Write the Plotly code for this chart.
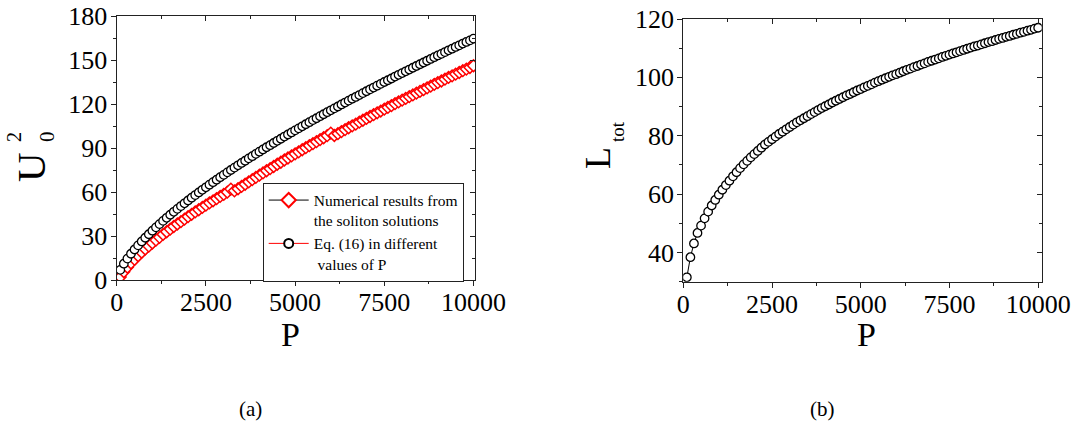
import plotly.graph_objects as go

W, H = 1077, 421

# ---------------- data ----------------
P = list(range(100, 10001, 100))

U0sq_eq16 = [6.9, 11.1, 14.6, 17.9, 20.8, 23.6, 26.3, 28.8, 31.2, 33.6,
             35.9, 38.1, 40.3, 42.4, 44.5, 46.5, 48.5, 50.4, 52.3, 54.2,
             56.1, 57.9, 59.7, 61.5, 63.2, 65.0, 66.7, 68.4, 70.1, 71.7,
             73.4, 75.0, 76.6, 78.2, 79.8, 81.3, 82.9, 84.4, 86.0, 87.5,
             89.0, 90.5, 91.9, 93.4, 94.9, 96.3, 97.8, 99.2, 100.6, 102.0,
             103.4, 104.8, 106.2, 107.6, 109.0, 110.3, 111.7, 113.0, 114.4, 115.7,
             117.0, 118.3, 119.7, 121.0, 122.3, 123.6, 124.8, 126.1, 127.4, 128.7,
             130.0, 131.2, 132.5, 133.7, 135.0, 136.2, 137.4, 138.7, 139.9, 141.1,
             142.3, 143.5, 144.7, 145.9, 147.1, 148.3, 149.5, 150.7, 151.9, 153.1,
             154.2, 155.4, 156.6, 157.7, 158.9, 160.0, 161.2, 162.3, 163.4, 164.6]

U0sq_num = [2.0, 5.6, 8.7, 11.6, 14.1, 16.5, 18.9, 21.1, 23.1, 25.2,
            27.2, 29.1, 31.1, 32.9, 34.7, 36.5, 38.2, 39.8, 41.5, 43.2,
            44.8, 46.4, 47.9, 49.5, 51.0, 52.6, 54.0, 55.5, 57.0, 58.4,
            59.9, 62.0, 60.8, 62.2, 63.8, 65.3, 66.9, 68.4, 70.0, 71.5,
            73.0, 74.5, 75.9, 77.4, 78.9, 80.3, 81.8, 83.2, 84.6, 86.0,
            87.4, 88.8, 90.2, 91.6, 93.0, 94.3, 95.7, 97.0, 98.4, 100.2,
            98.5, 99.8, 101.2, 102.5, 103.8, 105.1, 106.3, 107.6, 108.9, 110.2,
            111.5, 112.7, 114.0, 115.2, 116.5, 117.7, 118.9, 120.2, 121.4, 122.6,
            123.8, 125.0, 126.2, 127.4, 128.6, 129.8, 131.0, 132.2, 133.4, 134.6,
            135.7, 136.9, 138.1, 139.2, 140.4, 141.5, 142.7, 143.8, 144.9, 146.1]

L_tot = [31.5, 38.4, 43.1, 46.7, 49.2, 51.7, 54.0, 56.1, 58.0, 59.8,
         61.5, 63.1, 64.6, 66.1, 67.5, 68.9, 70.2, 71.4, 72.6, 73.7,
         74.8, 75.9, 77.0, 77.9, 78.8, 79.7, 80.6, 81.4, 82.2, 83.0,
         83.8, 84.6, 85.3, 86.0, 86.7, 87.4, 88.1, 88.8, 89.5, 90.1,
         90.7, 91.4, 92.0, 92.6, 93.2, 93.8, 94.3, 94.9, 95.5, 96.0,
         96.6, 97.1, 97.6, 98.2, 98.7, 99.2, 99.7, 100.2, 100.7, 101.1,
         101.6, 102.1, 102.6, 103.0, 103.5, 103.9, 104.4, 104.8, 105.3, 105.7,
         106.1, 106.5, 107.0, 107.4, 107.8, 108.2, 108.6, 109.0, 109.4, 109.8,
         110.2, 110.6, 110.9, 111.3, 111.7, 112.1, 112.4, 112.8, 113.2, 113.5,
         113.9, 114.2, 114.6, 114.9, 115.3, 115.6, 116.0, 116.3, 116.7, 117.0]

x_ticks = [0, 2500, 5000, 7500, 10000]
ya_ticks = [0, 30, 60, 90, 120, 150, 180]
yb_ticks = [40, 60, 80, 100, 120]

legend_num = "Numerical results from<br>the soliton solutions"
legend_eq = "Eq. (16) in different<br>\u00a0values of P"

# ---------------- helpers ----------------
def px(x):
    return x / W

def py(y):
    return 1 - y / H

SERIF = "Liberation Serif"
TICKFONT = dict(family=SERIF, size=26, color="black")

xa_dom = [px(116.7), px(475.0)]
ya_dom = [py(280.0), py(16.0)]
xb_dom = [px(683.3), px(1041.7)]
yb_dom = [py(281.7), py(19.0)]

xa_rng = [0, 10042]
ya_rng = [0, 180]
xb_rng = [0, 10100]
yb_rng = [30, 120]

fig = go.Figure()

# panel (a)
fig.add_trace(go.Scatter(
    x=P, y=U0sq_num, mode="lines+markers", xaxis="x", yaxis="y",
    line=dict(color="red", width=1),
    marker=dict(symbol="diamond", size=9, color="white",
                line=dict(color="red", width=1.5)),
    showlegend=False, hoverinfo="skip"))
fig.add_trace(go.Scatter(
    x=P, y=U0sq_eq16, mode="lines+markers", xaxis="x", yaxis="y",
    line=dict(color="black", width=1),
    marker=dict(symbol="circle", size=8.5, color="white",
                line=dict(color="black", width=1.3)),
    showlegend=False, hoverinfo="skip"))

# legend entries (as in the original: red diamond on black line, black circle on red line)
fig.add_trace(go.Scatter(
    x=[None], y=[None], mode="lines+markers", xaxis="x", yaxis="y",
    name=legend_num, line=dict(color="black", width=1),
    marker=dict(symbol="diamond", size=11, color="white",
                line=dict(color="red", width=2))))
fig.add_trace(go.Scatter(
    x=[None], y=[None], mode="lines+markers", xaxis="x", yaxis="y",
    name=legend_eq, line=dict(color="red", width=1),
    marker=dict(symbol="circle", size=9, color="white",
                line=dict(color="black", width=2))))

# panel (b)
fig.add_trace(go.Scatter(
    x=P, y=L_tot, mode="lines+markers", xaxis="x2", yaxis="y2",
    line=dict(color="black", width=1),
    marker=dict(symbol="circle", size=8.5, color="white",
                line=dict(color="black", width=1.3)),
    showlegend=False, hoverinfo="skip"))

# dummy traces so mirror-tick overlay axes are drawn
for xa, ya in [("x3", "y"), ("x", "y3"), ("x4", "y2"), ("x2", "y4")]:
    fig.add_trace(go.Scatter(x=[None], y=[None], xaxis=xa, yaxis=ya,
                             mode="markers", showlegend=False, hoverinfo="skip"))

AXLINE = dict(showline=True, linecolor="#222222", linewidth=1.3, mirror=True,
              showgrid=False, zeroline=False, ticks="outside", ticklen=5,
              tickwidth=1, tickcolor="#222222", tickfont=TICKFONT, automargin=False)

def minor(tick0, dtick, where="outside"):
    return dict(ticks=where, ticklen=3, tickwidth=1, tickcolor="#222222",
                tickmode="linear", tick0=tick0, dtick=dtick, showgrid=False)

def mirror_axis(overlay, anchor, side, rng, tickvals, m0, md):
    return dict(overlaying=overlay, anchor=anchor, side=side, range=rng,
                tickmode="array", tickvals=tickvals, showticklabels=False,
                ticks="inside", ticklen=5, tickwidth=1, tickcolor="#222222",
                showline=False, showgrid=False, zeroline=False, automargin=False,
                minor=minor(m0, md, "inside"))

fig.update_layout(
    width=W, height=H,
    margin=dict(l=0, r=0, t=0, b=0, pad=0, autoexpand=False),
    paper_bgcolor="white", plot_bgcolor="white",
    xaxis=dict(domain=xa_dom, anchor="y", range=xa_rng, tickmode="array",
               tickvals=x_ticks, ticktext=[str(v) for v in x_ticks],
               ticklabelstandoff=-6, minor=minor(0, 1250), **AXLINE),
    yaxis=dict(domain=ya_dom, anchor="x", range=ya_rng, tickmode="array",
               tickvals=ya_ticks, ticklabelstandoff=-2, minor=minor(0, 15), **AXLINE),
    xaxis2=dict(domain=xb_dom, anchor="y2", range=xb_rng, tickmode="array",
                tickvals=x_ticks, ticktext=[str(v) for v in x_ticks],
                ticklabelstandoff=-6, minor=minor(0, 1250), **AXLINE),
    yaxis2=dict(domain=yb_dom, anchor="x2", range=yb_rng, tickmode="array",
                tickvals=yb_ticks, ticklabelstandoff=-2, minor=minor(30, 20), **AXLINE),
    xaxis3=mirror_axis("x", "y", "top", xa_rng, x_ticks, 0, 1250),
    yaxis3=mirror_axis("y", "x", "right", ya_rng, ya_ticks, 0, 15),
    xaxis4=mirror_axis("x2", "y2", "top", xb_rng, x_ticks, 0, 1250),
    yaxis4=mirror_axis("y2", "x2", "right", yb_rng, yb_ticks, 30, 20),
    legend=dict(x=px(262.7), y=py(182.5), xanchor="left", yanchor="top",
                bgcolor="white", bordercolor="#222222", borderwidth=1,
                font=dict(family=SERIF, size=15.5, color="black"),
                valign="top", tracegroupgap=0, itemwidth=40),
    showlegend=True,
)

def ann(text, x, y, size, angle=0, family=SERIF):
    fig.add_annotation(text=text, x=px(x), y=py(y), xref="paper", yref="paper",
                       showarrow=False, textangle=angle, xanchor="center",
                       yanchor="middle", font=dict(family=family, size=size, color="black"))

# axis titles
ann("U", 31, 167, 41, -90)
ann("0", 47, 137, 21, -90)
ann("2", 14, 137, 20, -90)
ann("P", 291, 334, 34)
ann("L", 598, 158, 36, -90)
ann("tot", 617.5, 131.5, 19, -90)
ann("P", 866, 334, 34)
# captions
ann("(a)", 250, 409, 21)
ann("(b)", 822, 409, 21)

fig.write_html("out.html",
               config={"displayModeBar": False},
               post_script="document.body.style.margin='0px';document.body.style.overflow='hidden';")
